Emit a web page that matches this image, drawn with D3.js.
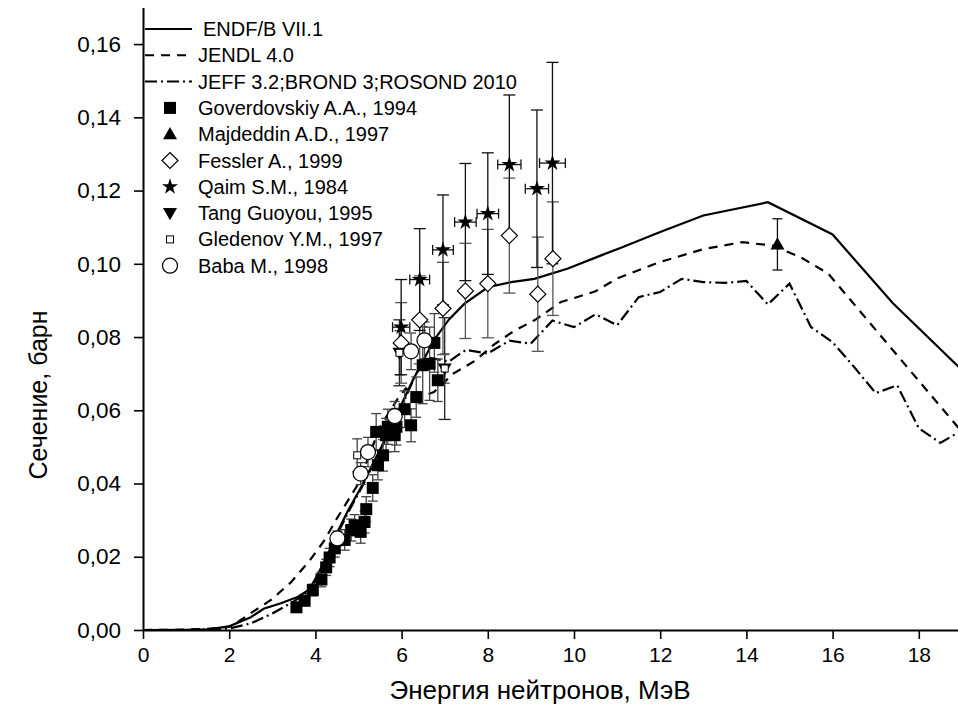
<!DOCTYPE html>
<html>
<head>
<meta charset="utf-8">
<script src="https://cdn.jsdelivr.net/npm/d3@7"></script>
<style>
  body { margin: 0; background: #fff; }
  svg { display: block; font-family: "Liberation Sans", Arial, sans-serif; }
</style>
</head>
<body>
<div id="chart"></div>
<script>
// evaluated curves
var endfE = [0, 1, 1.5, 2, 2.5, 2.8, 3.2, 3.6, 3.85, 4.05, 4.3, 4.5, 4.76, 5.06, 5.53, 6.26, 6.76, 7.1, 7.46, 8.0, 8.54, 9.08, 9.86, 10.63, 11.09, 12, 13, 14.5, 16, 17.4, 19];
var endfS = [0, 0.00005, 0.0002, 0.001, 0.0035, 0.0058, 0.0073, 0.0091, 0.011, 0.015, 0.021, 0.0265, 0.0327, 0.039, 0.050, 0.0682, 0.0793, 0.0848, 0.0891, 0.0936, 0.095, 0.0959, 0.0987, 0.1023, 0.1044, 0.1087, 0.1132, 0.1168, 0.108, 0.0892, 0.071];

var jendlE = [0, 1, 1.5, 2.05, 2.5, 2.97, 3.43, 3.87, 4.2, 4.5, 4.8, 5.0, 5.5, 5.9, 6.1, 6.4, 6.75, 7.2, 7.7, 8.15, 8.6, 9.1, 9.7, 10.1, 10.5, 11, 12, 13, 13.9, 14.6, 15.26, 15.9, 17.4, 18.9, 19];
var jendlS = [0, 0.0001, 0.0003, 0.001, 0.0046, 0.0082, 0.013, 0.019, 0.0243, 0.0305, 0.0362, 0.040, 0.0555, 0.063, 0.066, 0.0635, 0.065, 0.070, 0.0735, 0.078, 0.0816, 0.0847, 0.0896, 0.091, 0.0925, 0.096, 0.1005, 0.104, 0.1059, 0.105, 0.1018, 0.0973, 0.0764, 0.0555, 0.054];

var jeffE = [0, 1, 1.5, 2, 2.5, 3.0, 3.5, 3.8, 4.0, 4.3, 4.5, 4.8, 5.1, 5.5, 6.0, 6.3, 6.55, 6.75, 7.1, 7.3, 7.5, 8.0, 8.5, 9.0, 9.5, 10, 10.5, 11, 11.5, 12, 12.5, 13, 13.5, 14, 14.5, 15, 15.5, 16, 16.5, 17, 17.5, 18, 18.5, 19];
var jeffS = [0, 0, 0.0001, 0.0004, 0.0018, 0.0045, 0.0078, 0.0102, 0.0135, 0.0205, 0.026, 0.033, 0.0395, 0.049, 0.061, 0.069, 0.0745, 0.0741, 0.0733, 0.075, 0.0765, 0.0755, 0.079, 0.0782, 0.0845, 0.0827, 0.0862, 0.0832, 0.0909, 0.0923, 0.0959, 0.095, 0.0948, 0.0953, 0.0889, 0.0946, 0.0827, 0.0786, 0.0718, 0.0647, 0.0668, 0.0551, 0.0511, 0.0545];

// experimental data
var goverE = [3.56, 3.75, 3.94, 4.14, 4.25, 4.33, 4.45, 4.68, 4.83, 4.91, 5.05, 5.14, 5.18, 5.33, 5.41, 5.45, 5.57, 5.64, 5.68, 5.84, 5.88, 6.07, 6.22, 6.34, 6.49, 6.65, 6.76, 6.84];
var goverS = [0.0062, 0.0080, 0.0109, 0.0138, 0.0171, 0.0198, 0.0223, 0.0246, 0.0273, 0.0286, 0.0268, 0.0295, 0.0330, 0.0388, 0.0541, 0.0450, 0.0477, 0.0532, 0.0555, 0.0532, 0.0555, 0.0603, 0.0559, 0.0636, 0.0723, 0.0727, 0.0784, 0.0682];
var goverErr = [0.0012, 0.0014, 0.0016, 0.0020, 0.0022, 0.0025, 0.0024, 0.0028, 0.0030, 0.0029, 0.0031, 0.0030, 0.0034, 0.0036, 0.0050, 0.0040, 0.0043, 0.0046, 0.0048, 0.0045, 0.0050, 0.0050, 0.0045, 0.0055, 0.0105, 0.0100, 0.0080, 0.0058];

var majdE = [14.72];
var majdS = [0.1053];
var majdErr = [0.007];

var fesslerE = [5.99, 6.42, 6.96, 7.48, 8.0, 8.5, 9.16, 9.51];
var fesslerS = [0.0784, 0.0847, 0.0878, 0.0926, 0.0946, 0.1077, 0.0917, 0.1014];
var fesslerErr = [0.011, 0.012, 0.0126, 0.013, 0.0148, 0.0157, 0.0156, 0.0155];

var qaimE = [5.99, 6.42, 6.96, 7.48, 8.0, 8.5, 9.14, 9.5];
var qaimS = [0.0827, 0.0957, 0.1038, 0.1114, 0.1137, 0.1271, 0.1205, 0.1275];
var qaimErr = [0.013, 0.0139, 0.015, 0.016, 0.0166, 0.019, 0.0215, 0.0275];
var qaimEErr = [0.2, 0.23, 0.24, 0.25, 0.25, 0.27, 0.27, 0.3];

var tangE = [5.95, 7.0];
var tangS = [0.0757, 0.0714];
var tangErr = [0.009, 0.0139];

var gledE = [4.97, 5.95, 7.0];
var gledS = [0.0477, 0.0757, 0.0714];
var gledErr = [0.0045, 0.006, 0.004];

var babaE = [4.51, 5.05, 5.22, 5.84, 6.22, 6.53];
var babaS = [0.025, 0.0427, 0.0486, 0.0584, 0.0761, 0.0791];
var babaErr = [0.002, 0.003, 0.004, 0.004, 0.005, 0.005];

var xTicks = [0, 2, 4, 6, 8, 10, 12, 14, 16, 18];
var yTicks = [0, 0.02, 0.04, 0.06, 0.08, 0.10, 0.12, 0.14, 0.16];

var legendLabels = ['ENDF/B VII.1', 'JENDL 4.0', 'JEFF 3.2;BROND 3;ROSOND 2010',
  'Goverdovskiy A.A., 1994', 'Majdeddin A.D., 1997', 'Fessler A., 1999',
  'Qaim S.M., 1984', 'Tang Guoyou, 1995', 'Gledenov Y.M., 1997', 'Baba M., 1998'];
var legendTypes = ['solid', 'dash', 'dashdot', 'square', 'triangle', 'diamond', 'star', 'down', 'smallsq', 'circle'];

var width = 958, height = 722;
var dashes = { solid: null, dash: '9,7', dashdot: '12,4,2,4' };

var svg = d3.select('#chart').append('svg')
  .attr('width', width)
  .attr('height', height);

var x = d3.scaleLinear().domain([0, 19]).range([143, 143 + 19 * 43.1]);
var y = d3.scaleLinear().domain([0, 0.17]).range([630, 630 - 0.17 * 3662]);

// axes
var xAxis = svg.append('g').attr('transform', 'translate(0,' + y(0) + ')');
xAxis.call(d3.axisBottom(x).tickValues(d3.range(0, 20, 1)).tickSize(5).tickSizeOuter(0).tickFormat(''));
xAxis.call(d3.axisBottom(x).tickValues(xTicks).tickSize(9).tickSizeOuter(0).tickPadding(8));

var yAxis = svg.append('g').attr('transform', 'translate(' + x(0) + ',0)');
yAxis.call(d3.axisLeft(y).tickValues(d3.range(0.01, 0.17, 0.02)).tickSize(5).tickSizeOuter(0).tickFormat(''));
yAxis.call(d3.axisLeft(y).tickValues(yTicks).tickSize(9).tickSizeOuter(0).tickPadding(13)
  .tickFormat(function(d) { return d.toFixed(2).replace('.', ','); }));

svg.selectAll('.domain').attr('stroke', '#000').attr('stroke-width', 2);
svg.selectAll('.tick line').attr('stroke', '#000').attr('stroke-width', 1.6);
svg.selectAll('.tick text').attr('font-size', 21).attr('fill', '#000')
  .attr('font-family', '"Liberation Sans", Arial, sans-serif');
yAxis.selectAll('.tick text').attr('font-size', 22.5);

svg.append('text')
  .attr('x', 540).attr('y', 699)
  .attr('text-anchor', 'middle')
  .attr('font-size', 26)
  .text('Энергия нейтронов, МэВ');

svg.append('text')
  .attr('transform', 'translate(47,395) rotate(-90)')
  .attr('text-anchor', 'middle')
  .attr('font-size', 25)
  .text('Сечение, барн');

// curves
var line = d3.line().x(function(d) { return x(d[0]); }).y(function(d) { return y(d[1]); });
function curve(es, ss, style) {
  svg.append('path')
    .datum(d3.zip(es, ss))
    .attr('d', line)
    .attr('fill', 'none')
    .attr('stroke', '#000')
    .attr('stroke-width', 2.2)
    .attr('stroke-dasharray', dashes[style]);
}
curve(endfE, endfS, 'solid');
curve(jendlE, jendlS, 'dash');
curve(jeffE, jeffS, 'dashdot');

// markers
function symbol(g, type, cx, cy) {
  var p;
  if (type == 'square') {
    p = g.append('rect').attr('x', cx - 6).attr('y', cy - 6).attr('width', 12).attr('height', 12).attr('fill', '#000');
  } else if (type == 'smallsq') {
    p = g.append('rect').attr('x', cx - 3.5).attr('y', cy - 3.5).attr('width', 7).attr('height', 7)
      .attr('fill', '#fff').attr('stroke', '#000').attr('stroke-width', 1);
  } else if (type == 'circle') {
    p = g.append('circle').attr('cx', cx).attr('cy', cy).attr('r', 7.5)
      .attr('fill', '#fff').attr('stroke', '#000').attr('stroke-width', 1.2);
  } else if (type == 'diamond') {
    p = g.append('path').attr('d', 'M' + cx + ',' + (cy - 8) + 'L' + (cx + 8) + ',' + cy + 'L' + cx + ',' + (cy + 8) + 'L' + (cx - 8) + ',' + cy + 'Z')
      .attr('fill', '#fff').attr('stroke', '#000').attr('stroke-width', 1.2);
  } else if (type == 'star') {
    p = g.append('path').attr('d', d3.symbol(d3.symbolStar, 80)()).attr('transform', 'translate(' + cx + ',' + cy + ')').attr('fill', '#000');
  } else if (type == 'triangle') {
    p = g.append('path').attr('d', d3.symbol(d3.symbolTriangle, 85)()).attr('transform', 'translate(' + cx + ',' + (cy + 1) + ')').attr('fill', '#000');
  } else if (type == 'down') {
    p = g.append('path').attr('d', d3.symbol(d3.symbolTriangle, 85)()).attr('transform', 'translate(' + cx + ',' + (cy - 1) + ') rotate(180)').attr('fill', '#000');
  }
  return p;
}

function errorBars(es, ss, errs, color, cap) {
  var g = svg.append('g').attr('stroke', color).attr('stroke-width', 1.3);
  es.forEach(function(e, i) {
    var cx = x(e), y0 = y(ss[i] - errs[i]), y1 = y(ss[i] + errs[i]);
    g.append('line').attr('x1', cx).attr('x2', cx).attr('y1', y0).attr('y2', y1);
    g.append('line').attr('x1', cx - cap).attr('x2', cx + cap).attr('y1', y0).attr('y2', y0);
    g.append('line').attr('x1', cx - cap).attr('x2', cx + cap).attr('y1', y1).attr('y2', y1);
  });
}

function xErrorBars(es, ss, errs, color) {
  var g = svg.append('g').attr('stroke', color).attr('stroke-width', 1.3);
  es.forEach(function(e, i) {
    var cy = y(ss[i]), x0 = x(e - errs[i]), x1 = x(e + errs[i]);
    g.append('line').attr('x1', x0).attr('x2', x1).attr('y1', cy).attr('y2', cy);
    g.append('line').attr('x1', x0).attr('x2', x0).attr('y1', cy - 5).attr('y2', cy + 5);
    g.append('line').attr('x1', x1).attr('x2', x1).attr('y1', cy - 5).attr('y2', cy + 5);
  });
}

function points(es, ss, type) {
  var g = svg.append('g');
  es.forEach(function(e, i) { symbol(g, type, x(e), y(ss[i])); });
}

errorBars(goverE, goverS, goverErr, '#444', 5);
errorBars(babaE, babaS, babaErr, '#444', 5);
errorBars(gledE, gledS, gledErr, '#444', 5);
errorBars(tangE, tangS, tangErr, '#222', 6);
errorBars(fesslerE, fesslerS, fesslerErr, '#555', 6);
errorBars(qaimE, qaimS, qaimErr, '#111', 6);
xErrorBars(qaimE, qaimS, qaimEErr, '#111');
errorBars(majdE, majdS, majdErr, '#111', 5);

points(goverE, goverS, 'square');
points(majdE, majdS, 'triangle');
points(fesslerE, fesslerS, 'diamond');
points(qaimE, qaimS, 'star');
points(tangE, tangS, 'down');
points(gledE, gledS, 'smallsq');
points(babaE, babaS, 'circle');

// legend
var legend = svg.append('g');
legendLabels.forEach(function(label, i) {
  var cy = 29 + i * 26.3;
  var type = legendTypes[i];
  if (dashes.hasOwnProperty(type)) {
    legend.append('line')
      .attr('x1', 145).attr('x2', 192).attr('y1', cy).attr('y2', cy)
      .attr('stroke', '#000').attr('stroke-width', 2)
      .attr('stroke-dasharray', dashes[type]);
  } else {
    symbol(legend, type, 170, cy);
  }
  legend.append('text')
    .attr('x', i == 0 ? 203 : 198).attr('y', cy + 7)
    .attr('font-size', 20)
    .text(label);
});
</script>
</body>
</html>
